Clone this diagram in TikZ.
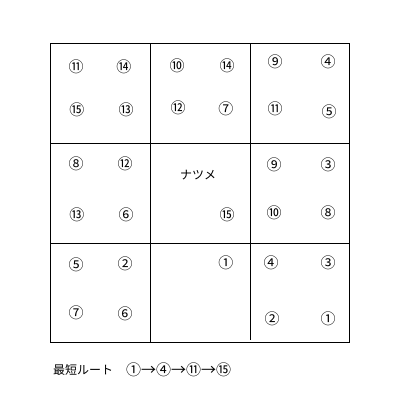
\documentclass[tikz,border=0pt]{standalone}
\usepackage{fontspec}
\setmainfont{Noto Sans CJK JP}
\usepackage{tikz}

\begin{document}
\begin{tikzpicture}[x=1pt, y=-1pt, font=\fontsize{12}{12}\selectfont,
  num/.style={inner sep=0pt, font=\fontsize{15}{15}\selectfont},
  grid/.style={line width=0.9pt}]
  \useasboundingbox (0,0) rectangle (400,400);
  \draw [grid] (50,43) rectangle (349,342);
  \draw [grid] (150,43) -- (150,342);
  \draw [grid] (250,43) -- (250,340);
  \draw [grid] (50,143) -- (349,143);
  \draw [grid] (50,243) -- (349,243);
  % top row
  \node [num] (a1) at (76,67) {⑪};
  \node [num] (a2) at (124,67) {⑭};
  \node [num] (a3) at (77,110) {⑮};
  \node [num] (a4) at (126,110) {⑬};
  \node [num] (b1) at (177,66) {⑩};
  \node [num] (b2) at (227,66) {⑭};
  \node [num] (b3) at (178,108) {⑫};
  \node [num] (b4) at (226,109) {⑦};
  \node [num] (c1) at (275,62) {⑨};
  \node [num] (c2) at (328,62) {④};
  \node [num] (c3) at (275,109) {⑪};
  \node [num] (c4) at (329,112) {⑤};
  % middle row
  \node [num] (d1) at (76,164) {⑧};
  \node [num] (d2) at (125,164) {⑫};
  \node [num] (d3) at (77,215) {⑬};
  \node [num] (d4) at (126,215) {⑥};
  \node (natsume) at (198,175) {ナツメ};
  \node [num] (e1) at (227,215) {⑮};
  \node [num] (f1) at (274,165) {⑨};
  \node [num] (f2) at (328,165) {③};
  \node [num] (f3) at (274,213) {⑩};
  \node [num] (f4) at (328,213) {⑧};
  % bottom row
  \node [num] (g1) at (76,265) {⑤};
  \node [num] (g2) at (125,264) {②};
  \node [num] (g3) at (76,313) {⑦};
  \node [num] (g4) at (125,314) {⑥};
  \node [num] (h1) at (226,263) {①};
  \node [num] (i1) at (271,263) {④};
  \node [num] (i2) at (328,263) {③};
  \node [num] (i3) at (272,319) {②};
  \node [num] (i4) at (328,319) {①};
  \node [anchor=west, inner sep=0pt] (route) at (53,370) {最短ルート};
  \node [anchor=west, inner sep=0pt, font=\fontsize{15}{15}\selectfont] (path) at (126,370) {①→④→⑪→⑮};
\end{tikzpicture}
\end{document}
